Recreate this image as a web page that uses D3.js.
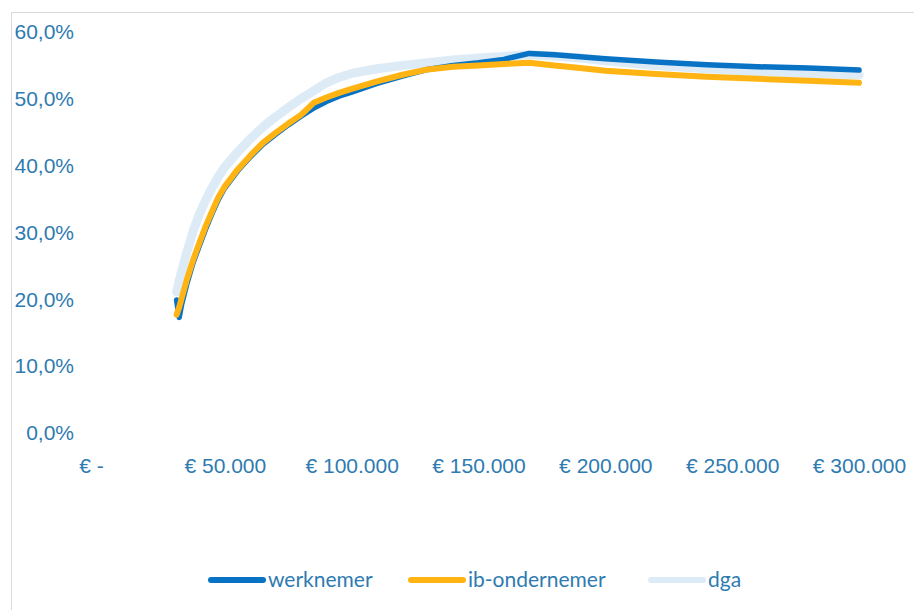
<!DOCTYPE html>
<html>
<head>
<meta charset="utf-8">
<script src="https://cdn.jsdelivr.net/npm/d3@7"></script>
<style>
	html, body { margin: 0; padding: 0; background: #fff; }
	svg { display: block; font-family: Lato, "Open Sans", sans-serif; }
	.axis text, .legend text { fill: #2e7bb1; font-size: 21px; }
</style>
</head>
<body>
<div id="chart"></div>
<script>
// income in euro (x values shared by all series)
var income = [31000, 32000, 33000, 35000, 37500, 40000, 42500, 45000, 47500, 50000,
	55000, 60000, 65000, 70000, 75000, 80000, 82000, 85000, 90000, 95000, 100000,
	110000, 120000, 130000, 140000, 150000, 160000, 170000, 180000, 190000, 200000,
	220000, 240000, 260000, 280000, 300000];

// marginal burden per series, in percent
var werknemer = [19.9, 17.3, 19.3, 22.3, 25.5, 28.1, 30.6, 32.9, 35.0, 36.7,
	39.2, 41.3, 43.2, 44.7, 46.1, 47.4, 47.9, 48.6, 49.6, 50.4, 51.0,
	52.3, 53.4, 54.4, 55.0, 55.4, 55.9, 56.8, 56.6, 56.3, 56.0,
	55.5, 55.1, 54.8, 54.6, 54.3];

var ibOndernemer = [17.7, 18.8, 20.2, 22.9, 25.9, 28.5, 31.0, 33.2, 35.3, 36.9,
	39.4, 41.5, 43.4, 44.9, 46.3, 47.6, 48.3, 49.4, 50.2, 50.9, 51.5,
	52.6, 53.6, 54.4, 54.8, 55.0, 55.2, 55.4, 55.0, 54.6, 54.2,
	53.7, 53.3, 53.0, 52.7, 52.4];

var dga = [21.1, 22.8, 24.2, 27.0, 30.2, 32.8, 34.9, 36.7, 38.4, 39.8,
	42.0, 44.0, 45.8, 47.3, 48.7, 50.0, 50.5, 51.2, 52.4, 53.2, 53.8,
	54.5, 55.0, 55.4, 55.8, 56.1, 56.35, 56.6, 56.4, 56.1, 55.7,
	55.0, 54.5, 54.1, 53.8, 53.6];

var xTicks = [0, 50000, 100000, 150000, 200000, 250000, 300000];
var yTicks = [0, 0.1, 0.2, 0.3, 0.4, 0.5, 0.6];

// drawing order: dga underneath, then werknemer, ib-ondernemer on top
var series = [
	{ name: "dga", values: dga, color: "#ddebf7", width: 9 },
	{ name: "werknemer", values: werknemer, color: "#0873c4", width: 5.5 },
	{ name: "ib-ondernemer", values: ibOndernemer, color: "#ffb414", width: 6 }
];
var legendOrder = ["werknemer", "ib-ondernemer", "dga"];

var width = 914,
	height = 610;

var svg = d3.select("#chart")
	.append("svg")
	.attr("width", width)
	.attr("height", height);

// chart area frame (runs off the right and bottom edge)
svg.append("rect")
	.attr("x", 11.5)
	.attr("y", 12.5)
	.attr("width", 1000)
	.attr("height", 700)
	.attr("fill", "none")
	.attr("stroke", "#d9d9d9");

var x = d3.scaleLinear()
	.domain([0, 300000])
	.range([98, 859]);

var y = d3.scaleLinear()
	.domain([0, 0.6])
	.range([433, 32]);

var euro = function(d) {
	if (d === 0) return "€ -";
	return "€ " + d3.format(",")(d).replace(/,/g, ".");
};

var pct = function(d) {
	return d3.format(".1f")(d * 100).replace(".", ",") + "%";
};

// Y axis
var gy = svg.append("g")
	.attr("class", "axis")
	.attr("transform", "translate(74,0)")
	.call(d3.axisLeft(y).tickValues(yTicks).tickFormat(pct).tickSize(0).tickPadding(0));
gy.select(".domain").remove();
gy.selectAll("text")
	.attr("font-family", null)
	.attr("font-size", null);

// X axis
var gx = svg.append("g")
	.attr("class", "axis")
	.attr("transform", "translate(0,458)")
	.call(d3.axisBottom(x).tickValues(xTicks).tickFormat(euro).tickSize(0).tickPadding(0));
gx.select(".domain").remove();
gx.selectAll("text")
	.attr("font-family", null)
	.attr("font-size", null)
	.attr("dx", (d) => d === 0 ? -7 : 0);

// Lines
var line = d3.line()
	.x((d) => x(d[0]))
	.y((d) => y(d[1] / 100))
	.curve(d3.curveLinear);

svg.append("g")
	.attr("class", "lines")
	.selectAll("path")
	.data(series)
	.enter()
	.append("path")
	.attr("d", (s) => line(income.map((v, i) => [v, s.values[i]])))
	.attr("fill", "none")
	.attr("stroke", (s) => s.color)
	.attr("stroke-width", (s) => s.width)
	.attr("stroke-linejoin", "round")
	.attr("stroke-linecap", "round");

// Legend
var legendX = [208, 408, 648];
var legend = svg.append("g")
	.attr("class", "legend")
	.selectAll("g")
	.data(legendOrder)
	.enter()
	.append("g")
	.attr("transform", (d, i) => "translate(" + legendX[i] + ",580)");

legend.append("line")
	.attr("x1", 3)
	.attr("x2", 55)
	.attr("stroke", (d) => series.find((s) => s.name === d).color)
	.attr("stroke-width", 6)
	.attr("stroke-linecap", "round");

legend.append("text")
	.attr("x", 60)
	.attr("dy", "0.35em")
	.text((d) => d);
</script>
</body>
</html>
